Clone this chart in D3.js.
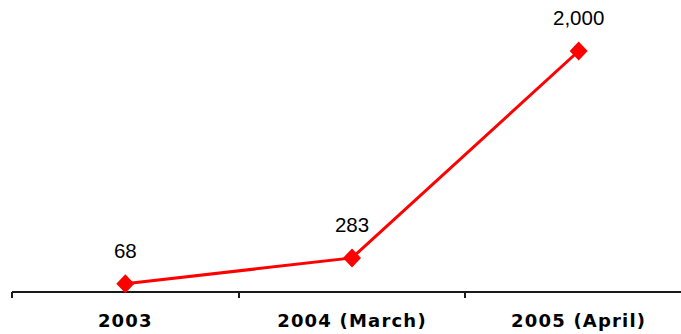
<!DOCTYPE html>
<html><head><meta charset="utf-8">
<script src="https://cdn.jsdelivr.net/npm/d3@7"></script>
<style>html,body{margin:0;padding:0;background:#fff;overflow:hidden}</style>
</head><body>
<svg id="c" width="681" height="334"></svg>
<script>
const categories = ["2003", "2004 (March)", "2005 (April)"];
const values = [68, 283, 2000];
const valueLabels = ["68", "283", "2,000"];

const svg = d3.select("#c");
const x = d3.scaleBand().domain(categories).range([12, 692]).padding(0);
const y = d3.scaleLinear().domain([0, 2000]).range([292, 51]);

svg.append("line").attr("x1", 12).attr("x2", 681).attr("y1", y(0)).attr("y2", y(0))
  .attr("stroke", "#1a1a1a").attr("stroke-width", 2);
categories.forEach(c => {
  const xb = Math.round(x(c));
  svg.append("line").attr("x1", xb).attr("x2", xb).attr("y1", y(0)).attr("y2", y(0) + 6)
    .attr("stroke", "#1a1a1a").attr("stroke-width", 2);
});
svg.selectAll("text.cat").data(categories).enter().append("text")
  .attr("class", "cat")
  .attr("x", d => x(d) + x.bandwidth() / 2)
  .attr("y", 327)
  .attr("text-anchor", "middle")
  .attr("font-family", "DejaVu Sans, Verdana, sans-serif")
  .attr("font-weight", "bold")
  .attr("font-size", 18)
  .attr("letter-spacing", 1.2)
  .attr("fill", "#000")
  .text(d => d);

const cx = (d, i) => x(categories[i]) + x.bandwidth() / 2;
const line = d3.line().x((d, i) => cx(d, i)).y(d => y(d));
svg.append("path").datum(values).attr("d", line)
  .attr("fill", "none").attr("stroke", "#ff0000").attr("stroke-width", 3);

svg.selectAll("path.m").data(values).enter().append("path")
  .attr("class", "m")
  .attr("transform", (d, i) => `translate(${cx(d, i)},${y(d)})`)
  .attr("d", "M0,-9.5L9,0L0,9.5L-9,0Z")
  .attr("fill", "#ff0000");

svg.selectAll("text.v").data(values).enter().append("text")
  .attr("class", "v")
  .attr("x", (d, i) => cx(d, i))
  .attr("y", d => y(d) - 26)
  .attr("text-anchor", "middle")
  .attr("font-family", "Liberation Sans, Arial, sans-serif")
  .attr("font-size", 20.5)
  .attr("fill", "#000")
  .text((d, i) => valueLabels[i]);
</script>
</body></html>
